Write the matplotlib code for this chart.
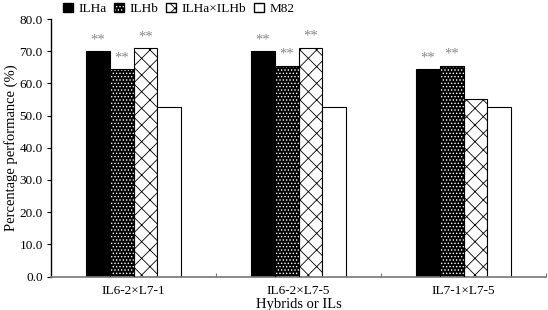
import matplotlib
matplotlib.use("Agg")
import matplotlib.pyplot as plt
import numpy as np
from matplotlib.patches import Patch

categories = ["IL6-2\u00d7L7-1", "IL6-2\u00d7L7-5", "IL7-1\u00d7L7-5"]
series_names = ["ILHa", "ILHb", "ILHa\u00d7ILHb", "M82"]
ilha = [70.0, 70.0, 64.5]
ilhb = [64.5, 65.5, 65.5]
ilha_x_ilhb = [70.9, 71.1, 55.3]
m82 = [52.6, 52.6, 52.6]
signif = [[True, True, True, False],
          [True, True, True, False],
          [True, True, False, False]]
yticks = [0, 10, 20, 30, 40, 50, 60, 70, 80]

plt.rcParams['font.family'] = ['Liberation Serif', 'DejaVu Serif']
plt.rcParams['hatch.linewidth'] = 0.6

fig = plt.figure(figsize=(5.48, 3.10), dpi=100)
ax = fig.add_axes([51/548, 1-276.6/310, (546-51)/548, (276.6-19)/310])

x = np.arange(len(categories)) + 0.5
w = 0.145
offsets = [-1.5, -0.5, 0.5, 1.5]
data = [ilha, ilhb, ilha_x_ilhb, m82]
DOTS = '.....'

for i, vals in enumerate(data):
    xs = x + offsets[i]*w
    if i == 0:
        ax.bar(xs, vals, w, color='black', edgecolor='black', linewidth=0.8, zorder=2)
    elif i == 1:
        ax.bar(xs, vals, w, color='black', edgecolor='white', hatch=DOTS, linewidth=0, zorder=2)
        ax.bar(xs, vals, w, fill=False, edgecolor='black', linewidth=0.8, zorder=3)
    elif i == 2:
        ax.bar(xs, vals, w, color='white', edgecolor='black', hatch='xx', linewidth=0.8, zorder=2)
    else:
        ax.bar(xs, vals, w, color='white', edgecolor='black', linewidth=0.8, zorder=2)
    for j, v in enumerate(vals):
        if signif[j][i]:
            ax.text(xs[j], v + 1.5, "**", ha='center', va='bottom', color='#888888', fontsize=10.5)

ax.set_xlim(0, 3)
ax.set_ylim(0, 80)
ax.set_yticks(yticks)
ax.set_yticklabels([f"{t:.1f}" for t in yticks], fontsize=9.5)
ax.set_xticks([0, 1, 2, 3])
ax.set_xticklabels([])
ax.set_xticks(x, minor=True)
ax.set_xticklabels(categories, minor=True, fontsize=9.5)
ax.tick_params(axis='x', which='major', direction='in', length=3, color='#777777')
ax.tick_params(axis='x', which='minor', length=0, pad=6)
ax.tick_params(axis='y', direction='out', length=3, width=0.8, pad=3)
for s in ['top', 'right']:
    ax.spines[s].set_visible(False)
ax.spines['left'].set_linewidth(1.0)
ax.spines['bottom'].set_color('#777777')
ax.spines['bottom'].set_linewidth(1.2)

ax.set_xlabel("Hybrids or ILs", fontsize=10.5, labelpad=1)
fig.text(11/548, 1-148/310, "Percentage performance (%)", fontsize=10.5,
         rotation=90, ha='center', va='center')

h1 = Patch(facecolor='black', edgecolor='black')
h2a = Patch(facecolor='black', edgecolor='white', hatch=DOTS, linewidth=0)
h2b = Patch(fill=False, edgecolor='black')
h3 = Patch(facecolor='white', edgecolor='black', hatch='xx')
h4 = Patch(facecolor='white', edgecolor='black')
leg = fig.legend([h1, (h2a, h2b), h3, h4], series_names, loc='center left',
                 bbox_to_anchor=(63/548, 1-9/310), ncol=4, frameon=False,
                 fontsize=9.5, handlelength=0.75, handleheight=0.75,
                 handletextpad=0.4, columnspacing=0.6, borderpad=0, borderaxespad=0)

fig.savefig("out.png", dpi=100)
